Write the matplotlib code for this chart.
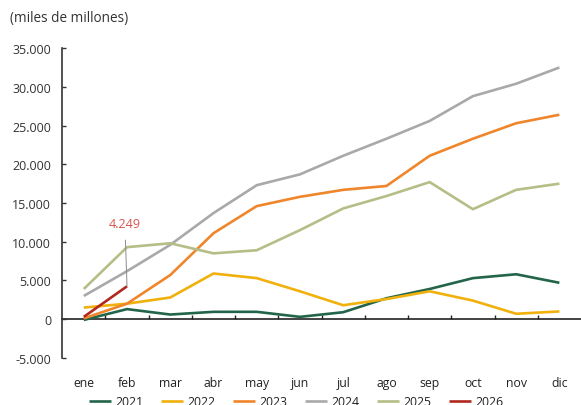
import matplotlib
matplotlib.use("Agg")
import matplotlib.pyplot as plt
from matplotlib.ticker import FuncFormatter

plt.rcParams['font.family'] = ['Open Sans', 'DejaVu Sans']

# Monthly accumulated values (miles de millones)
meses = ["ene", "feb", "mar", "abr", "may", "jun", "jul", "ago", "sep", "oct", "nov", "dic"]
v2021 = [-100, 1300, 600, 950, 950, 300, 900, 2700, 3900, 5300, 5800, 4700]
v2022 = [1500, 2000, 2800, 5900, 5300, 3600, 1800, 2600, 3600, 2400, 700, 1000]
v2023 = [100, 2000, 5700, 11100, 14600, 15800, 16700, 17200, 21100, 23300, 25300, 26400]
v2024 = [3000, 6200, 9600, 13700, 17300, 18700, 21100, 23300, 25600, 28800, 30400, 32500]
v2025 = [3900, 9300, 9800, 8500, 8900, 11500, 14300, 15900, 17700, 14200, 16700, 17500]
v2026 = [300, 4249]

series = [
    ("2021", v2021, "#22654a"),
    ("2022", v2022, "#f0b10c"),
    ("2023", v2023, "#f0862b"),
    ("2024", v2024, "#a9a9ab"),
    ("2025", v2025, "#b6bd86"),
    ("2026", v2026, "#b2281f"),
]

fig = plt.figure(figsize=(5.81, 4.06), dpi=100)
ax = fig.add_axes([0.107, 0.116, 0.893, 0.763])

x = list(range(len(meses)))
for name, vals, col in series:
    ax.plot(x[:len(vals)], vals, color=col, lw=1.9, label=name, solid_capstyle='butt')

# label for the latest value
ax.annotate("4.249", xy=(1, v2026[1]), xytext=(0.95, 12300),
            color="#d9534f", fontsize=9, ha="center", va="center",
            arrowprops=dict(arrowstyle="-", color="#8c8c8c", lw=0.7,
                            shrinkA=5, shrinkB=0))

ax.set_xlim(-0.5, 11.5)
ax.set_ylim(-5000, 35000)
ax.set_yticks(range(-5000, 35001, 5000))
ax.yaxis.set_major_formatter(FuncFormatter(lambda v, p: f"{int(v):,}".replace(",", ".")))
ax.tick_params(axis="y", direction="in", length=3, width=1, colors="#333333",
               labelsize=9, labelcolor="#333333", pad=8)

ax.set_xticks(x)
ax.set_xticklabels(meses)
ax.tick_params(axis="x", length=0, labelsize=8.8, labelcolor="#222222", pad=13)

for s in ["top", "right", "bottom"]:
    ax.spines[s].set_visible(False)
ax.spines["left"].set_color("#333333")
ax.spines["left"].set_linewidth(1.2)

# zero line with category separators
zero = ax.secondary_xaxis(5000 / 40000)
zero.set_xticks([i + 0.5 for i in x[:-1]])
zero.tick_params(direction="in", length=3, width=1, labelbottom=False, colors="#222222")
zero.spines["bottom"].set_color("#222222")
zero.spines["bottom"].set_linewidth(1.2)

fig.text(0.017, 0.955, "(miles de millones)", fontsize=9.8, color="#333333",
         ha="left", va="center")

fig.legend(loc="center", bbox_to_anchor=(0.51, 0.008), ncol=6, frameon=False,
           fontsize=8.8, handlelength=1.8, handletextpad=0.4, columnspacing=1.4,
           labelcolor="#222222")

fig.savefig("out.png", dpi=100)
